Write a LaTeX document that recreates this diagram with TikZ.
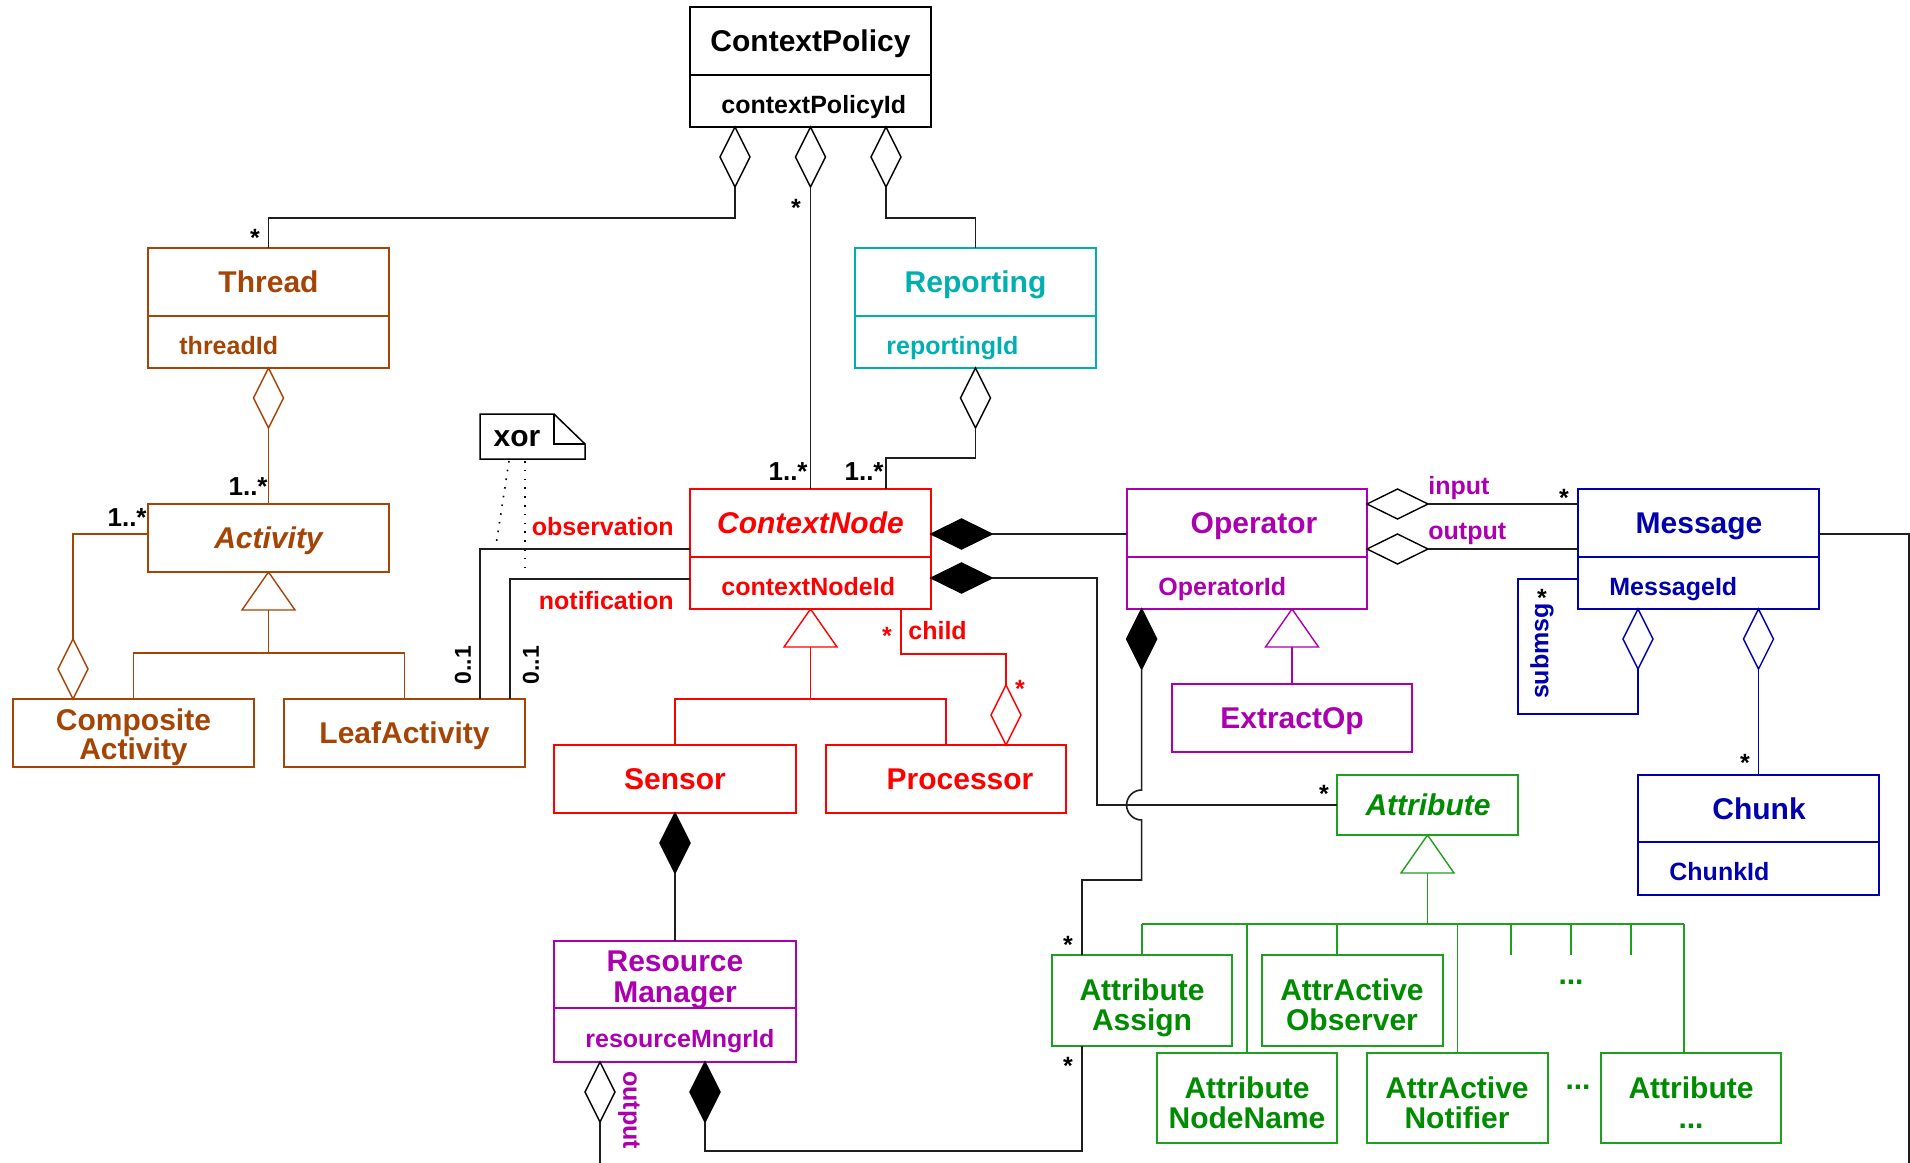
\documentclass[tikz,border=0pt]{standalone}
\usepackage{fontspec}
\setmainfont{Liberation Sans}
\usetikzlibrary{shapes.geometric,calc,fit}

\definecolor{cBrown}{RGB}{165,68,5}
\definecolor{cRed}{RGB}{255,0,0}
\definecolor{cCyan}{RGB}{0,176,176}
\definecolor{cMag}{RGB}{172,0,176}
\definecolor{cBlue}{RGB}{0,0,175}
\definecolor{cGreen}{RGB}{0,140,0}
\definecolor{cGreenL}{RGB}{30,160,30}
\definecolor{cLine}{RGB}{30,30,30}

\tikzset{
  cls/.style={draw=#1, inner sep=0pt, outer sep=0pt, line width=0.75pt},
  cls/.default=black,
  divider/.style={draw=#1, line width=0.75pt},
  ttl/.style={font=\fontsize{15}{17}\selectfont\bfseries, text=#1, text height=10.8pt, text depth=0pt, inner sep=0pt},
  ttl/.default=black,
  ttli/.style={ttl=#1, font=\fontsize{15}{17}\selectfont\bfseries\itshape},
  att/.style={font=\fontsize{12.5}{14}\selectfont\bfseries, text=#1, anchor=west, text height=9pt, text depth=0pt, inner sep=0pt},
  lbl/.style={font=\fontsize{12.5}{14}\selectfont\bfseries, text=#1, inner sep=0pt},
  lbl/.default=black,
  star/.style={font=\fontsize{12.5}{14}\selectfont\bfseries, text=#1, inner sep=0pt},
  star/.default=black,
  mult/.style={font=\fontsize{13}{15}\selectfont\bfseries, text height=9.4pt, text depth=0pt, inner sep=0pt, anchor=east},
  conn/.style={draw=cLine, line width=0.8pt},
  odv/.style={diamond, draw=#1, fill=white, inner sep=0pt, outer sep=0pt, minimum width=15pt, minimum height=30pt, line width=0.7pt},
  odv/.default=black,
  fdv/.style={odv=black, fill=black},
  odh/.style={diamond, draw=#1, fill=white, inner sep=0pt, outer sep=0pt, minimum width=30.5pt, minimum height=15pt, line width=0.7pt},
  odh/.default=black,
  fdh/.style={odh=black, fill=black},
  gen/.style={draw=#1, fill=white, line width=0.7pt, line join=miter},
}

\begin{document}
\begin{tikzpicture}[x=0.5pt,y=-0.5pt]
\useasboundingbox (0,0) rectangle (1910,1162);
\fill[white] (0,0) rectangle (1910,1162);

% ---------- class boxes ----------
\node[cls=black,  fit={(690,7) (931,127)}]     (cp) {};
\node[cls=cBrown, fit={(148,248) (389,368)}]   (thread) {};
\node[cls=cCyan,  fit={(855,248) (1096,368)}]  (reporting) {};
\node[cls=cBrown, fit={(148,504) (389,572)}]   (activity) {};
\node[cls=cBrown, fit={(13,699) (254,767)}]    (composite) {};
\node[cls=cBrown, fit={(284,699) (525,767)}]   (leaf) {};
\node[cls=cRed,   fit={(690,489) (931,609)}]   (cnode) {};
\node[cls=cRed,   fit={(554,745) (796,813)}]   (sensor) {};
\node[cls=cRed,   fit={(826,745) (1066,813)}]  (processor) {};
\node[cls=cMag,   fit={(554,941) (796,1062)}]  (rm) {};
\node[cls=cMag,   fit={(1127,489) (1367,609)}] (operator) {};
\node[cls=cMag,   fit={(1172,684) (1412,752)}] (extractop) {};
\node[cls=cBlue,  fit={(1578,489) (1819,609)}] (message) {};
\node[cls=cBlue,  fit={(1638,775) (1879,895)}] (chunk) {};
\node[cls=cGreenL, fit={(1337,775) (1518,835)}] (attribute) {};
\node[cls=cGreenL, fit={(1052,955) (1232,1046)}] (aassign) {};
\node[cls=cGreenL, fit={(1262,955) (1443,1046)}] (aobserver) {};
\node[cls=cGreenL, fit={(1157,1053) (1337,1143)}] (anodename) {};
\node[cls=cGreenL, fit={(1367,1053) (1548,1143)}] (anotifier) {};
\node[cls=cGreenL, fit={(1601,1053) (1781,1143)}] (aetc) {};

% compartment dividers
\draw[divider=black]  (690,75) -- (931,75);
\draw[divider=cBrown] (148,316) -- (389,316);
\draw[divider=cCyan]  (855,316) -- (1096,316);
\draw[divider=cRed]   (690,557) -- (931,557);
\draw[divider=cMag]   (554,1008) -- (796,1008);
\draw[divider=cMag]   (1127,557) -- (1367,557);
\draw[divider=cBlue]  (1578,557) -- (1819,557);
\draw[divider=cBlue]  (1638,842) -- (1879,842);

% ---------- class texts ----------
\node[ttl=black]  (cpT)  at (810.5,41) {ContextPolicy};
\node[att=black]  (cpA)  at (721,104) {contextPolicyId};
\node[ttl=cBrown] (thrT) at (268.5,282) {Thread};
\node[att=cBrown] (thrA) at (179,345) {threadId};
\node[ttl=cCyan]  (repT) at (975.5,282) {Reporting};
\node[att=cCyan]  (repA) at (886,345) {reportingId};
\node[ttli=cBrown] (actT) at (268.5,538) {Activity};
\node[ttl=cBrown] (compT1) at (133.5,720) {Composite};
\node[ttl=cBrown] (compT2) at (133.5,749) {Activity};
\node[ttl=cBrown] (leafT) at (404.5,733) {LeafActivity};
\node[ttli=cRed]  (cnT)  at (810.5,523) {ContextNode};
\node[att=cRed]   (cnA)  at (721,586) {contextNodeId};
\node[ttl=cRed]   (senT) at (675,779) {Sensor};
\node[ttl=cRed]   (proT) at (960,779) {Processor};
\node[ttl=cMag]   (rmT1) at (675,961) {Resource};
\node[ttl=cMag]   (rmT2) at (675,992) {Manager};
\node[att=cMag]   (rmA)  at (585,1038) {resourceMngrId};
\node[ttl=cMag]   (opT)  at (1254,523) {Operator};
\node[att=cMag]   (opA)  at (1158,586) {OperatorId};
\node[ttl=cMag]   (exT)  at (1292,718) {ExtractOp};
\node[ttl=cBlue]  (msgT) at (1699,523) {Message};
\node[att=cBlue]  (msgA) at (1609,586) {MessageId};
\node[ttl=cBlue]  (chT)  at (1759,809) {Chunk};
\node[att=cBlue]  (chA)  at (1669,871) {ChunkId};
\node[ttli=cGreen] (atT) at (1428,805) {Attribute};
\node[ttl=cGreen] (asgT1) at (1142,990) {Attribute};
\node[ttl=cGreen] (asgT2) at (1142,1020) {Assign};
\node[ttl=cGreen] (obsT1) at (1352,990) {AttrActive};
\node[ttl=cGreen] (obsT2) at (1352,1020) {Observer};
\node[ttl=cGreen] (nnT1) at (1247,1088) {Attribute};
\node[ttl=cGreen] (nnT2) at (1247,1118) {NodeName};
\node[ttl=cGreen] (ntfT1) at (1457,1088) {AttrActive};
\node[ttl=cGreen] (ntfT2) at (1457,1118) {Notifier};
\node[ttl=cGreen] (etcT1) at (1691,1088) {Attribute};
\node[ttl=cGreen] (etcT2) at (1691,1118) {...};
\node[ttl=cGreen] (dots1) at (1571,974) {...};
\node[ttl=cGreen] (dots2) at (1578,1079) {...};

% ---------- xor note ----------
\node[inner sep=0pt, outer sep=0pt, fit={(480,414) (585,459)}] (note) {};
\draw[line width=0.75pt] (note.north west) -- ++(74,0) -- ++(31,30) -- (note.south east) -- (note.south west) -- cycle;
\draw[line width=0.75pt] ($(note.north west)+(74,0)$) -- ++(0,30) -- ++(31,0);
\node[ttl=black] (xorT) at (517,436) {xor};
\coordinate (obsMark) at (496,545);
\coordinate (notMark) at (525,575);
\draw[dash pattern=on 0.8pt off 3.6pt, line width=0.8pt] ($(note.south west)+(29,2)$) -- (obsMark);
\draw[dash pattern=on 0.8pt off 3.6pt, line width=0.8pt] ($(note.south west)+(45,2)$) -- (notMark);

% ---------- ContextPolicy aggregations ----------
\node[odv, anchor=north] (dThr) at ($(cp.south west)+(45,0)$) {};
\node[odv, anchor=north] (dCn)  at (cp.south) {};
\node[odv, anchor=north] (dRep) at ($(cp.south east)+(-45,0)$) {};
\draw[conn] (dThr.south) -- ++(0,31) -| (thread.north);
\draw[conn] (dCn.south) -- (cnode.north);
\draw[conn] (dRep.south) -- ++(0,31) -| (reporting.north);
\node[star] (sThr) at (255,238) {*};
\node[star] (sCn)  at (796,208) {*};
\node[mult] (mCn1) at (808,471) {1..*};

% Reporting -> ContextNode
\node[odv, anchor=north] (dRC) at (reporting.south) {};
\draw[conn] (dRC.south) -- ++(0,30) -| ($(cnode.north east)+(-45,0)$);
\node[mult] (mCn2) at (884,471) {1..*};

% Thread -> Activity
\node[odv=cBrown, anchor=north] (dAct) at (thread.south) {};
\draw[conn, draw=cBrown] (dAct.south) -- (activity.north);
\node[mult] (mAct1) at (268,486) {1..*};

% CompositeActivity aggregates Activity
\node[odv=cBrown, anchor=south] (dComp) at ($(composite.north west)+(60,0)$) {};
\draw[conn, draw=cBrown] (dComp.north) |- ($(activity.north west)+(0,30)$);
\node[mult] (mAct2) at (147,517) {1..*};

% Activity generalization
\draw[gen=cBrown] (activity.south) -- ++(26.5,38) -- ++(-53,0) -- cycle;
\coordinate (gAct) at ($(activity.south)+(0,38)$);
\draw[conn, draw=cBrown] (gAct) -- ++(0,43) -| (composite.north);
\draw[conn, draw=cBrown] (gAct) -- ++(0,43) -| (leaf.north);

% observation / notification
\draw[conn] ($(cnode.north west)+(0,60)$) -| ($(leaf.north east)+(-45,0)$);
\draw[conn] ($(cnode.north west)+(0,90)$) -| ($(leaf.north east)+(-15,0)$);
\node[lbl=cRed, anchor=east] (lObs) at (674,527) {observation};
\node[lbl=cRed, anchor=east] (lNot) at (674,601) {notification};
\node[lbl, rotate=90, font=\fontsize{11.5}{13}\selectfont\bfseries] (m01a) at (463,665) {0..1};
\node[lbl, rotate=90, font=\fontsize{11.5}{13}\selectfont\bfseries] (m01b) at (531,665) {0..1};

% ContextNode compositions
\node[fdh, anchor=west] (dOp) at ($(cnode.north east)+(0,45)$) {};
\draw[conn] (dOp.east) -- (dOp.east -| operator.west);
\node[fdh, anchor=west] (dAt) at ($(cnode.north east)+(0,89)$) {};
\draw[conn] (dAt.east) -- ++(105,0) |- (attribute.west);
\node[star] (sAt) at (1324,794) {*};

% ContextNode generalization
\draw[gen=cRed] (cnode.south) -- ++(26.5,38) -- ++(-53,0) -- cycle;
\coordinate (gCn) at ($(cnode.south)+(0,38)$);
\draw[conn, draw=cRed] (gCn) -- ++(0,52) -| (sensor.north);
\draw[conn, draw=cRed] (gCn) -- ++(0,52) -| (processor.north);

% child aggregation
\node[odv=cRed, anchor=south] (dChild) at ($(processor.north east)+(-60,0)$) {};
\draw[conn, draw=cRed] (dChild.north) |- ($(cnode.south east)+(-30,45)$) -- ($(cnode.south east)+(-30,0)$);
\node[star=cRed] (sCh1) at (887,636) {*};
\node[lbl=cRed, anchor=west] (lChild) at (908,631) {child};
\node[star=cRed] (sCh2) at (1020,689) {*};

% Sensor -> ResourceManager
\node[fdv, anchor=north] (dSen) at (sensor.south) {};
\draw[conn] (dSen.south) -- (rm.north);

% ResourceManager output and attribute assignment
\node[odv, anchor=north] (dRmO) at ($(rm.south west)+(46,0)$) {};
\coordinate (rmOutEnd) at ($(dRmO.south)+(0,50)$);
\draw[conn] (dRmO.south) -- (rmOutEnd);
\node[lbl=cMag, rotate=-90] (lRmOut) at (629,1110) {output};
\node[fdv, anchor=north] (dRmA) at ($(rm.south west)+(151,0)$) {};
\draw[conn] (dRmA.south) -- ++(0,29) -| ($(aassign.south west)+(30,0)$);
\node[star] (sAs2) at (1068,1066) {*};

% Operator -> AttributeAssign (hops over the Attribute line)
\node[fdv, anchor=north] (dOpA) at ($(operator.south west)+(14.6,0)$) {};
\draw[conn] (dOpA.south) -- ($(dOpA.south)+(0,121)$) arc[start angle=90, end angle=270, radius=7.5pt] -- ++(0,60) -| ($(aassign.north west)+(30,0)$);
\node[star] (sAs1) at (1068,945) {*};

% Operator -> Message
\node[odh, anchor=west] (dIn) at ($(operator.north east)+(0,15)$) {};
\draw[conn] (dIn.east) -- (dIn.east -| message.west);
\node[odh, anchor=west] (dOutp) at ($(operator.north east)+(0,60)$) {};
\draw[conn] (dOutp.east) -- (dOutp.east -| message.west);
\node[lbl=cMag, anchor=west] (lIn) at (1428,488) {input};
\node[lbl=cMag, anchor=west] (lOut) at (1428,534) {output};
\node[star] (sMsg) at (1564,498) {*};

% Operator generalization
\draw[gen=cMag] (operator.south -| extractop.north) -- ++(26.5,38) -- ++(-53,0) -- cycle;
\coordinate (gOp) at ($(operator.south -| extractop.north)+(0,38)$);
\draw[conn, draw=cMag] (gOp) -- (extractop.north);

% Message sub-messages and chunks
\node[odv=cBlue, anchor=north] (dSub) at ($(message.south west)+(60,0)$) {};
\draw[conn, draw=cBlue] (dSub.south) -- ++(0,45) -| ($(message.north west)+(-60,90)$) -- ($(message.north west)+(0,90)$);
\node[lbl=cBlue, rotate=90] (lSub) at (1542,651) {submsg};
\node[star] (sSub) at (1542,598) {*};
\node[odv=cBlue, anchor=north] (dChk) at (message.south -| chunk.north) {};
\draw[conn, draw=cBlue] (dChk.south) -- (chunk.north);
\node[star] (sChk) at (1745,763) {*};

% Message link leaving to the right
\coordinate (msgEnd) at (1909,1170);
\draw[conn] ($(message.north east)+(0,45)$) -| (msgEnd);

% Attribute generalization
\draw[gen=cGreenL] (attribute.south) -- ++(26.5,38) -- ++(-53,0) -- cycle;
\coordinate (gAt) at ($(attribute.south)+(0,38)$);
\coordinate (gBus) at ($(gAt)+(0,51)$);
\coordinate (obsTop) at ($(aobserver.north)+(-15.5,0)$);
\coordinate (etcTop) at ($(aetc.north)+(-7,0)$);
\coordinate (tickA) at (1511,955);
\coordinate (tickB) at (1571,955);
\coordinate (tickC) at (1631,955);
\begin{scope}[conn, draw=cGreenL]
\draw (gAt) -- (gBus);
\draw (aassign.north |- gBus) -- (etcTop |- gBus);
\draw (aassign.north |- gBus) -- (aassign.north);
\draw (anodename.north |- gBus) -- (anodename.north);
\draw (obsTop |- gBus) -- (obsTop);
\draw (anotifier.north |- gBus) -- (anotifier.north);
\draw (etcTop |- gBus) -- (etcTop);
\draw (tickA |- gBus) -- (tickA);
\draw (tickB |- gBus) -- (tickB);
\draw (tickC |- gBus) -- (tickC);
\end{scope}
\end{tikzpicture}
\end{document}
